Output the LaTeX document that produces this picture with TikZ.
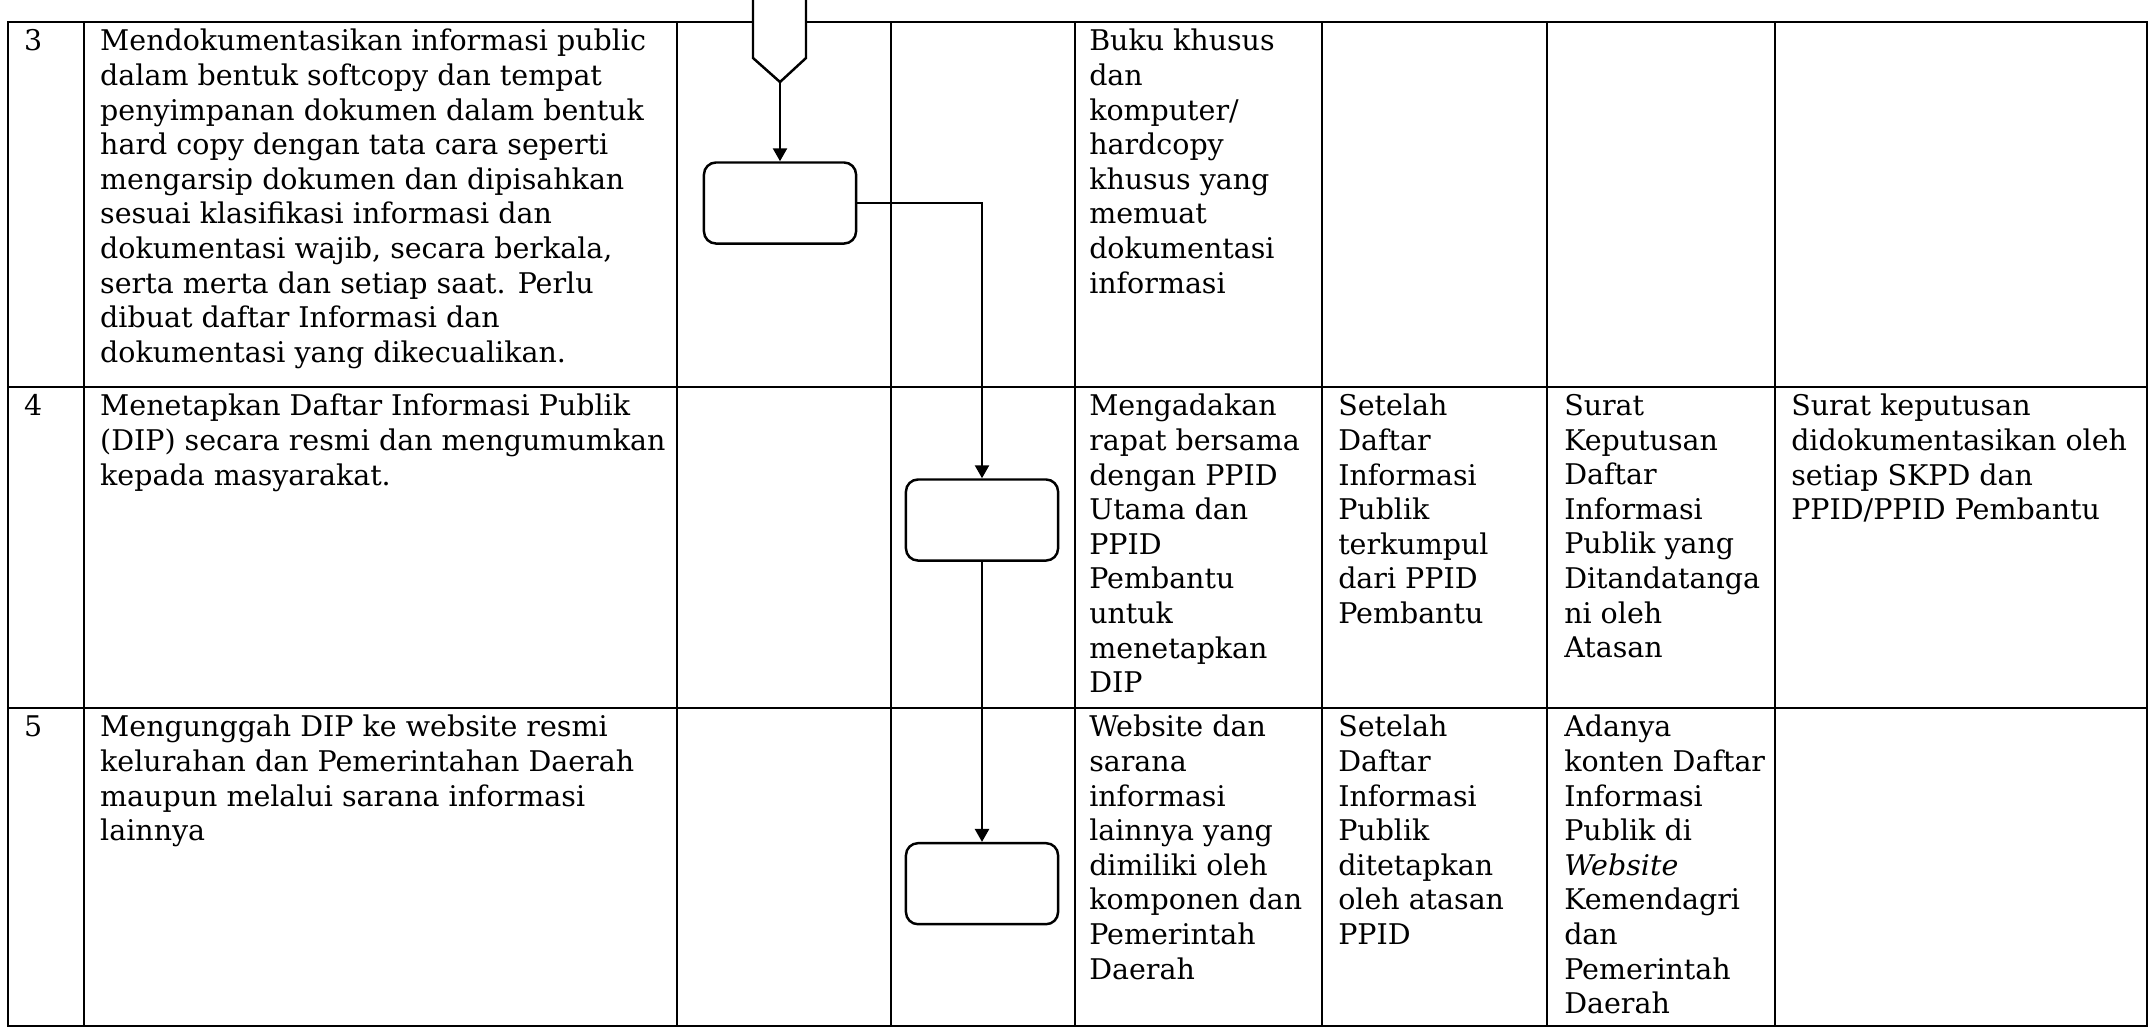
\documentclass[tikz,border=0pt]{standalone}
\usepackage{fontspec}
\setmainfont{DejaVu Serif}
\usetikzlibrary{arrows.meta}
\usetikzlibrary{positioning}

\begin{document}
\begin{tikzpicture}[x=0.01cm, y=-0.01cm, line width=0.7pt]
    % Define styles
    \tikzstyle{cell} = [anchor=north west, inner sep=0pt, align=left, font=\fontsize{8.1pt}{9.84pt}\selectfont]
    \tikzstyle{actbox} = [rectangle, draw, fill=white, rounded corners=0.12cm, minimum width=1.52cm, minimum height=0.81cm, inner sep=0pt]
    \tikzstyle{line} = [draw, -{Triangle[length=1.3mm, width=1.4mm]}]

    \useasboundingbox (0,0) rectangle (2149,1029);

    % Table
    \draw (8,22) rectangle (2147,1026);
    \draw (8,387) -- (2147,387) (8,708) -- (2147,708);
    \foreach \x in {84,677,891,1075,1322,1547,1775}
        \draw (\x,22) -- (\x,1026);

    % Off-page connector
    \filldraw [fill=white] (753,-10) -- (753,58) -- (780,82) -- (806,58) -- (806,-10);
    \coordinate (mulai) at (780,82);

    % Place nodes
    \node [actbox] (arsip) at (780,203) {};
    \node [actbox] (tetapkan) at (982,520) {};
    \node [actbox, below=2.8cm of tetapkan] (unggah) {};

    % Draw edges
    \path [line] (mulai) -- (arsip);
    \path [line] (arsip.east) -| (tetapkan.north);
    \path [line] (tetapkan) -- (unggah);

    % Row 3
    \node [cell] (no3) at (23,28) {3};
    \node [cell] (kegiatan3) at (99,28) {Mendokumentasikan informasi public\\
        dalam bentuk softcopy dan tempat\\
        penyimpanan dokumen dalam bentuk\\
        hard copy dengan tata cara seperti\\
        mengarsip dokumen dan dipisahkan\\
        sesuai klasifikasi informasi dan\\
        dokumentasi wajib, secara berkala,\\
        serta merta dan setiap saat. Perlu\\
        dibuat daftar Informasi dan\\
        dokumentasi yang dikecualikan.};
    \node [cell] (syarat3) at (1088,28) {Buku khusus\\ dan\\ komputer/\\ hardcopy\\ khusus yang\\ memuat\\ dokumentasi\\ informasi};

    % Row 4
    \node [cell] (no4) at (23,393) {4};
    \node [cell] (kegiatan4) at (99,393) {Menetapkan Daftar Informasi Publik\\
        (DIP) secara resmi dan mengumumkan\\
        kepada masyarakat.};
    \node [cell] (syarat4) at (1088,393) {Mengadakan\\ rapat bersama\\ dengan PPID\\ Utama dan\\ PPID\\ Pembantu\\ untuk\\ menetapkan\\ DIP};
    \node [cell] (waktu4) at (1337,393) {Setelah\\ Daftar\\ Informasi\\ Publik\\ terkumpul\\ dari PPID\\ Pembantu};
    \node [cell] (output4) at (1563,393) {Surat\\ Keputusan\\ Daftar\\ Informasi\\ Publik yang\\ Ditandatanga\\ ni oleh\\ Atasan};
    \node [cell] (ket4) at (1790,393) {Surat keputusan\\ didokumentasikan oleh\\ setiap SKPD dan\\ PPID/PPID Pembantu};

    % Row 5
    \node [cell] (no5) at (23,714) {5};
    \node [cell] (kegiatan5) at (99,714) {Mengunggah DIP ke website resmi\\
        kelurahan dan Pemerintahan Daerah\\
        maupun melalui sarana informasi\\
        lainnya};
    \node [cell] (syarat5) at (1088,714) {Website dan\\ sarana\\ informasi\\ lainnya yang\\ dimiliki oleh\\ komponen dan\\ Pemerintah\\ Daerah};
    \node [cell] (waktu5) at (1337,714) {Setelah\\ Daftar\\ Informasi\\ Publik\\ ditetapkan\\ oleh atasan\\ PPID};
    \node [cell] (output5) at (1563,714) {Adanya\\ konten Daftar\\ Informasi\\ Publik di\\ \textit{Website}\\ Kemendagri\\ dan\\ Pemerintah\\ Daerah};
\end{tikzpicture}
\end{document}
